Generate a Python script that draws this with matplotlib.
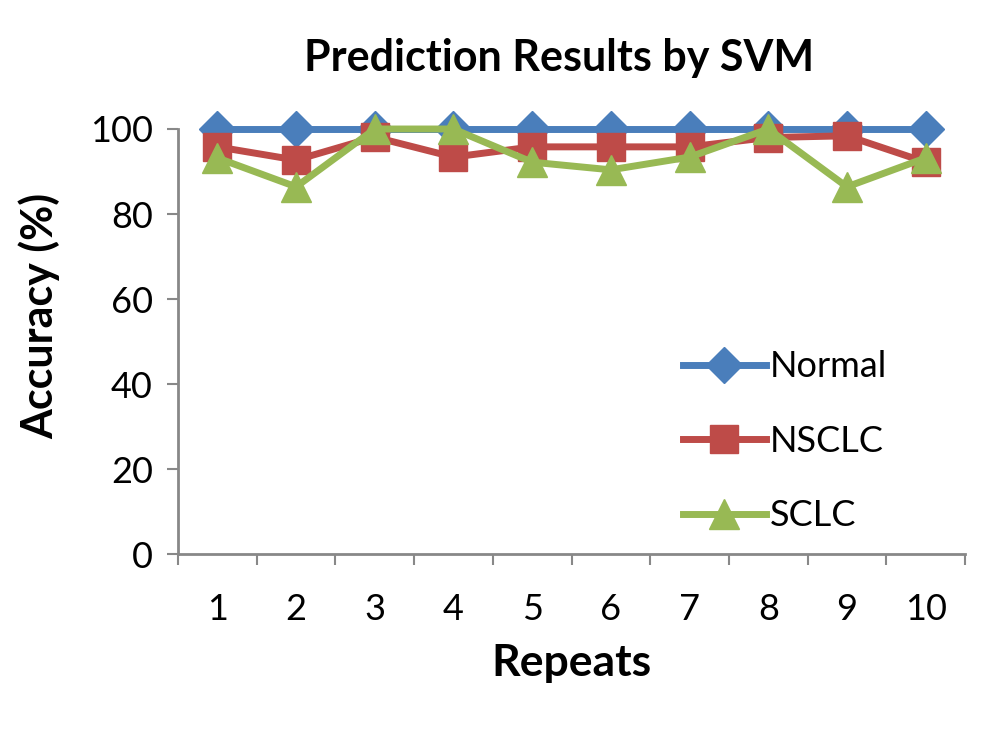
import matplotlib
matplotlib.use('Agg')
import matplotlib.pyplot as plt

# --- data ---
repeats = [1, 2, 3, 4, 5, 6, 7, 8, 9, 10]
normal = [100, 100, 100, 100, 100, 100, 100, 100, 100, 100]
nsclc = [95.8, 92.7, 98.1, 93.4, 95.8, 95.8, 95.8, 98.0, 98.4, 92.2]
sclc = [93.2, 86.4, 100, 100, 92.2, 90.4, 93.4, 100, 86.4, 93.2]
y_ticks = [0, 20, 40, 60, 80, 100]

plt.rcParams['font.family'] = ['Lato', 'DejaVu Sans']

fig = plt.figure(figsize=(10, 7.5), dpi=100)
ax = fig.add_axes([0.178, 0.261, 0.787, 0.567])

ax.plot(repeats, normal, color='#4a7ebb', lw=5, marker='D', ms=18,
        label='Normal', clip_on=False, zorder=3)
ax.plot(repeats, nsclc, color='#be4b48', lw=5, marker='s', ms=20,
        label='NSCLC', clip_on=False, zorder=4)
ax.plot(repeats, sclc, color='#98b954', lw=5, marker='^', ms=21,
        label='SCLC', clip_on=False, zorder=5)

ax.set_xlim(0.5, 10.5)
ax.set_ylim(0, 100)
ax.set_yticks(y_ticks)
ax.set_xticks(repeats)
ax.set_xticks([x + 0.5 for x in range(0, 11)], minor=True)
ax.tick_params(axis='x', which='major', length=0, pad=28, labelsize=26)
ax.tick_params(axis='x', which='minor', length=8, width=1.5, color='#888888')
ax.tick_params(axis='y', length=8, width=1.5, color='#888888', labelsize=26, pad=10)

for s in ['top', 'right']:
    ax.spines[s].set_visible(False)
for s in ['left', 'bottom']:
    ax.spines[s].set_color('#888888')
    ax.spines[s].set_linewidth(2)

ax.set_xlabel('Repeats', fontsize=32, fontweight='bold', labelpad=12)
ax.set_ylabel('Accuracy (%)', fontsize=31, fontweight='bold')
ax.yaxis.set_label_coords(-0.15, 0.56)
fig.text(0.559, 0.922, 'Prediction Results by SVM', ha='center', va='center',
         fontsize=31, fontweight='bold')

ax.legend(loc='lower left', bbox_to_anchor=(0.6, -0.025), frameon=False,
          fontsize=26, labelspacing=1.15, handlelength=2.3, handletextpad=0.1,
          markerscale=1.0)

fig.savefig('out.png', dpi=100)
